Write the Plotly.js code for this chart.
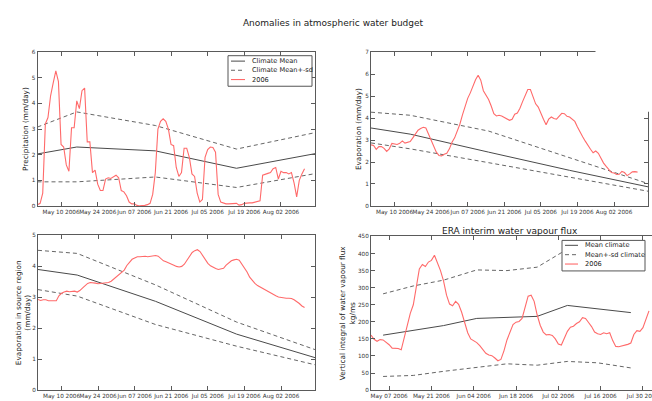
<!DOCTYPE html>
<html><head><meta charset="utf-8">
<script src="https://cdn.plot.ly/plotly-3.0.1.min.js"></script>
<style>html,body{margin:0;padding:0;background:#fff}#chart{width:652px;height:401px}</style>
</head><body><div id="chart"></div>
<script>
// ---------- DATA ----------
const start2006 = '2006-05-01';

// Precipitation (mm/day), daily from May 01 2006
const precip2006 = [0.05,0.1,0.5,3.2,3.45,4.3,4.8,5.27,4.85,2.4,
 2.3,1.6,1.35,3.05,3.05,4.1,3.8,4.5,4.6,2.5,
 2.5,1.3,1.4,0.85,0.6,0.6,1.05,1.1,1.07,1.15,
 1.2,1.1,0.6,0.55,0.4,0.15,0.08,0.08,0.02,0.0,
 0.0,0.02,0.05,0.1,0.45,1.3,3.0,3.3,3.4,3.3,
 3.0,2.4,2.35,1.5,1.15,1.3,2.25,2.25,1.9,1.25,
 1.15,0.5,0.15,0.25,1.9,2.2,2.3,2.28,2.1,0.45,
 0.15,0.1,0.08,0.08,0.08,0.1,0.1,0.03,0.05,0.1,
 0.12,0.12,0.12,0.15,0.15,0.2,1.2,1.25,1.27,1.3,
 1.45,1.5,1.05,1.35,1.3,1.3,1.25,1.3,0.9,0.35,
 1.0,1.25,1.45];

// Evaporation (mm/day), daily from May 01 2006
const evap2006 = [2.78,2.75,2.58,2.7,2.7,2.62,2.48,2.6,2.85,2.82,
 2.8,2.85,2.96,2.86,2.89,2.93,3.1,3.27,3.45,3.53,
 3.58,3.55,3.28,2.97,2.7,2.45,2.3,2.28,2.35,2.4,
 2.6,2.9,3.1,3.38,3.72,4.15,4.58,4.9,5.15,5.45,
 5.75,5.95,5.73,5.25,5.05,4.85,4.55,4.2,4.1,4.13,
 4.1,4.03,3.97,3.9,3.95,4.18,4.23,4.45,4.75,5.05,
 5.3,5.3,5.0,4.65,4.5,4.2,3.95,3.7,3.95,4.05,
 3.98,3.95,4.1,4.22,4.2,4.08,4.05,3.96,3.85,3.6,
 3.35,3.15,2.95,2.75,2.58,2.42,2.5,2.4,2.15,1.95,
 1.8,1.65,1.52,1.5,1.43,1.44,1.57,1.52,1.38,1.46,
 1.55,1.56,1.54];

// Evaporation in source region (mm/day), daily from May 01 2006
const source2006 = [2.93,2.9,2.92,2.92,2.89,2.89,2.89,2.89,3.05,3.13,
 3.17,3.2,3.18,3.2,3.2,3.17,3.22,3.3,3.38,3.45,
 3.48,3.48,3.46,3.44,3.45,3.45,3.46,3.48,3.52,3.59,
 3.65,3.72,3.79,3.88,4.03,4.15,4.23,4.27,4.31,4.31,
 4.33,4.33,4.31,4.32,4.34,4.35,4.33,4.27,4.18,4.15,
 4.12,4.09,4.04,4.0,3.98,4.0,4.07,4.2,4.33,4.45,
 4.51,4.54,4.48,4.35,4.23,4.1,4.02,3.97,3.93,3.9,
 3.91,3.94,4.04,4.12,4.18,4.21,4.23,4.2,4.08,3.95,
 3.82,3.65,3.54,3.45,3.38,3.33,3.3,3.23,3.18,3.13,
 3.09,3.05,3.01,2.99,2.98,2.97,2.97,2.96,2.92,2.87,
 2.8,2.72,2.67];

// ERA interim vertical integral of water vapour flux (kg/ms), daily from May 01 2006
const era2006 = [161,149,143,148,147,141,133,123,122,122,
 118,152,188,225,250,305,355,368,362,375,
 380,395,372,350,320,278,252,247,260,251,
 228,200,168,150,144,139,130,120,108,103,
 101,94,86,90,115,147,172,192,199,201,
 210,243,275,278,260,220,190,170,162,163,
 160,150,135,132,150,172,184,187,195,200,
 212,210,198,186,170,165,163,168,165,168,
 145,128,127,129,133,134,138,163,174,172,
 183,205,232];

// Monthly climatology nodes
const climDates = ['2006-05-01','2006-05-16','2006-06-15','2006-07-16','2006-08-15'];
const precipMean  = [2.03, 2.30, 2.15, 1.47, 2.04];
const precipUpper = [3.08, 3.67, 3.14, 2.22, 2.86];
const precipLower = [0.94, 0.94, 1.13, 0.72, 1.26];
const evapMean  = [3.55, 3.27, 2.45, 1.62, 0.87];
const evapUpper = [4.27, 4.13, 3.41, 2.21, 1.02];
const evapLower = [2.87, 2.60, 1.97, 1.30, 0.67];
const srcMean  = [3.90, 3.72, 2.87, 1.81, 1.05];
const srcUpper = [4.52, 4.42, 3.40, 2.20, 1.31];
const srcLower = [3.25, 3.04, 2.12, 1.42, 0.82];

// ERA climatology nodes
const eraClimDates = ['2006-05-05','2006-05-15','2006-05-25','2006-06-05','2006-06-15','2006-06-25','2006-07-05','2006-07-15','2006-07-26'];
const eraMean  = [161, 176, 189, 210, 213, 216, 248, 238, 227];
const eraUpper = [282, 305, 322, 352, 350, 360, 413, 410, 400];
const eraLower = [40, 43, 55, 67, 77, 73, 84, 80, 65];

const legendLabelsA = ['Climate Mean', 'Climate Mean+-sd', '2006'];
const legendLabelsB = ['Mean climate', 'Mean+-sd climate', '2006'];

// ---------- HELPERS ----------
const DAY = 86400000;
function dailyDates(start, n) {
  const t0 = new Date(start + 'T00:00:00Z').getTime();
  const out = [];
  for (let i = 0; i < n; i++) out.push(new Date(t0 + i * DAY).toISOString().slice(0, 10));
  return out;
}
const W = 652, H = 401;
const fx = x => x / W;
const fy = y => 1 - y / H;

const RED = '#ff6a6a', MEANC = '#4a4a4a', SDC = '#666666', AXC = '#5a5a5a';
const FONT = 'DejaVu Sans';

function meanTrace(x, y, xa, ya) { return {x, y, xaxis: xa, yaxis: ya, type: 'scatter', mode: 'lines', line: {color: MEANC, width: 1}, hoverinfo: 'skip'}; }
function sdTrace(x, y, xa, ya) { return {x, y, xaxis: xa, yaxis: ya, type: 'scatter', mode: 'lines', line: {color: SDC, width: 1, dash: '4px,3px'}, hoverinfo: 'skip'}; }
function obsTrace(y, xa, ya) { return {x: dailyDates(start2006, y.length), y, xaxis: xa, yaxis: ya, type: 'scatter', mode: 'lines', line: {color: RED, width: 1.1}, hoverinfo: 'skip'}; }

const traces = [
  meanTrace(climDates, precipMean, 'x', 'y'), sdTrace(climDates, precipUpper, 'x', 'y'), sdTrace(climDates, precipLower, 'x', 'y'), obsTrace(precip2006, 'x', 'y'),
  meanTrace(climDates, evapMean, 'x2', 'y2'), sdTrace(climDates, evapUpper, 'x2', 'y2'), sdTrace(climDates, evapLower, 'x2', 'y2'), obsTrace(evap2006, 'x2', 'y2'),
  meanTrace(climDates, srcMean, 'x3', 'y3'), sdTrace(climDates, srcUpper, 'x3', 'y3'), sdTrace(climDates, srcLower, 'x3', 'y3'), obsTrace(source2006, 'x3', 'y3'),
  meanTrace(eraClimDates, eraMean, 'x4', 'y4'), sdTrace(eraClimDates, eraUpper, 'x4', 'y4'), sdTrace(eraClimDates, eraLower, 'x4', 'y4'), obsTrace(era2006, 'x4', 'y4')
];

function xax(domain, range, tick0, anchor, mirror) {
  return {domain, range, type: 'date', tick0, dtick: 14 * DAY, tickformat: '%b %d %Y', tickangle: 0,
    ticks: 'inside', ticklen: 4, tickcolor: AXC, showline: true, linecolor: AXC, linewidth: 1, mirror: mirror,
    showgrid: false, zeroline: false, anchor, automargin: false, ticklabeloverflow: 'allow',
    tickfont: {family: FONT, size: 5.7, color: '#333'}};
}
function yax(domain, range, dtick, anchor, title, standoff, mirror) {
  return {domain, range, dtick, tick0: 0, ticks: 'inside', ticklen: 4, tickcolor: AXC, showline: true, linecolor: AXC,
    linewidth: 1, mirror: mirror, showgrid: false, zeroline: false, anchor, automargin: true,
    tickfont: {family: FONT, size: 5.7, color: '#333'},
    title: {text: title, standoff, font: {family: FONT, size: 7.3, color: '#222'}}};
}

const dTop = [fy(206), fy(50)];
const dBotL = [fy(393), fy(236)];
const dBotR = [fy(393), fy(237)];
const rangeA = ['2006-05-01', '2006-08-15'];
const rangeB = ['2006-05-01', '2006-08-02'];

const shapes = [];
const annotations = [];

// mask over top-right corner of the evaporation frame
shapes.push({type: 'rect', xref: 'paper', yref: 'paper', x0: fx(595.5), x1: fx(652), y0: fy(110.5), y1: fy(40), fillcolor: '#fff', line: {width: 0}, layer: 'above'});

function legend(box, rows, sx0, sx1, tx, labels) {
  shapes.push({type: 'rect', xref: 'paper', yref: 'paper', x0: fx(box[0]), x1: fx(box[1]), y0: fy(box[3]), y1: fy(box[2]), fillcolor: '#fff', line: {color: '#555', width: 1}, layer: 'above'});
  const styles = [{color: MEANC, width: 1}, {color: SDC, width: 1, dash: '4px,3px'}, {color: RED, width: 1.1}];
  rows.forEach((ry, i) => {
    shapes.push({type: 'line', xref: 'paper', yref: 'paper', x0: fx(sx0), x1: fx(sx1), y0: fy(ry), y1: fy(ry), line: styles[i], layer: 'above'});
    annotations.push({xref: 'paper', yref: 'paper', x: fx(tx), y: fy(ry), xanchor: 'left', yanchor: 'middle', showarrow: false, text: labels[i], font: {family: FONT, size: 6.6, color: '#222'}});
  });
}
legend([228, 312, 53.5, 84.5], [59, 68.3, 77.7], 231, 245, 249.5, legendLabelsA);
legend([562, 645, 241, 272], [246, 255.5, 265], 565, 578, 583, legendLabelsB);

annotations.push({xref: 'paper', yref: 'paper', x: fx(510), y: fy(231), xanchor: 'center', yanchor: 'middle', showarrow: false,
  text: 'ERA interim water vapour flux', font: {family: FONT, size: 9, color: '#222'}});

const layout = {
  width: W, height: H, margin: {l: 0, r: 0, t: 0, b: 0}, paper_bgcolor: '#fff', plot_bgcolor: 'rgba(0,0,0,0)',
  showlegend: false,
  title: {text: 'Anomalies in atmospheric water budget', x: fx(333), xanchor: 'center', y: fy(20), yanchor: 'middle', xref: 'paper', yref: 'paper',
    font: {family: FONT, size: 9, color: '#222'}},
  xaxis: xax([fx(37.5), fx(315)], rangeA, '2006-05-10', 'y', 'ticks'),
  yaxis: yax(dTop, [0, 6], 1, 'x', 'Precipitation (mm/day)', 2, 'ticks'),
  xaxis2: xax([fx(371), fx(648)], rangeA, '2006-05-10', 'y2', 'ticks'),
  yaxis2: yax(dTop, [0, 7], 1, 'x2', 'Evaporation (mm/day)', 2, 'ticks'),
  xaxis3: xax([fx(38), fx(315)], rangeA, '2006-05-10', 'y3', 'ticks'),
  yaxis3: yax(dBotL, [0, 5], 1, 'x3', 'Evaporation in source region<br>(mm/day)', 0, 'ticks'),
  xaxis4: xax([fx(371), 1], rangeB, '2006-05-07', 'y4', 'ticks'),
  yaxis4: yax(dBotR, [0, 450], 50, 'x4', 'Vertical integral of water vapour flux<br>kg/ms', 1, false),
  shapes, annotations
};

Plotly.newPlot('chart', traces, layout, {staticPlot: true, displayModeBar: false});
</script></body></html>
